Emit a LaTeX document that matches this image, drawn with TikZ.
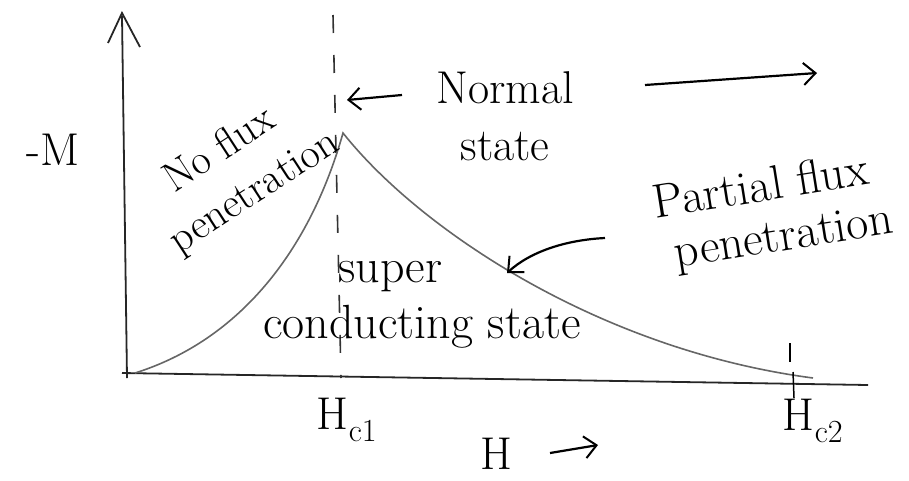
\documentclass[tikz,border=0pt]{standalone}
\usetikzlibrary{arrows.meta}
\tikzset{
  lbl/.style={font=\fontsize{46}{50}\selectfont, inner sep=0pt, text=black},
  axisline/.style={draw=black!85, line width=1.8pt},
  curveline/.style={draw=black!60, line width=1.6pt},
  barb/.style={-{Straight Barb[length=12pt,width=22pt,line width=2pt]}, line width=2.2pt},
  dashv/.style={draw=black!80, line width=1.6pt, dash pattern=on 18pt off 22pt},
}
\begin{document}
\begin{tikzpicture}[x=1pt,y=-1pt]
\path[use as bounding box] (0,0) rectangle (909,480);
% coordinates
\coordinate (O) at (122,373);
\coordinate (ytop) at (122,13);
\coordinate (xend) at (868,385);
\coordinate (start) at (135,373);
\coordinate (peak) at (343,133);
\coordinate (endc) at (813,378);
% axes
\draw[axisline] (127,378) -- (122,16);
\draw[line width=1.8pt, draw=black!85] (108,43) -- (ytop) -- (140,47);
\draw[axisline] (O) -- (xend);
% dashed Hc1 line
\coordinate (dtop) at (333,15);
\coordinate (dbot) at (341,378);
\draw[dashv] (dtop) -- (dbot);
% curve
\draw[curveline] (start) .. controls (240,340) and (310,250) .. (peak)
   .. controls (420,230) and (600,350) .. (endc);
% Hc2 tick
\coordinate (t1) at (790,343);
\coordinate (t2) at (790,362);
\coordinate (t3) at (793,372);
\coordinate (t4) at (794,398);
\draw[line width=1.5pt] (t1) -- (t2);
\draw[line width=1.5pt] (t3) -- (t4);
% labels
\node[lbl] (mlab) at (53,150) {-M};
\node[lbl, font=\fontsize{42}{54}\selectfont, rotate=33, align=center] (noflux) at (240,170) {\hspace*{-12pt}No flux\\penetration};
\node[lbl, align=center, font=\fontsize{46}{57}\selectfont] (normal) at (505,116) {Normal\\state};
\coordinate (nl) at (347,100);
\draw[barb] (402,95) -- (nl);
\coordinate (ra1) at (645,85);
\coordinate (ra2) at (817,73);
\draw[barb] (ra1) -- (ra2);
\node[lbl, font=\fontsize{48}{52}\selectfont, rotate=9, align=center] (partial) at (765,215) {Partial flux\\\hspace*{30pt}penetration};
\coordinate (ca1) at (605,238);
\coordinate (ca2) at (507,273);
\draw[barb] (ca1) .. controls (565,240) and (530,252) .. (ca2);
\node[lbl, font=\fontsize{48}{56}\selectfont, align=left] (super) at (422,305) {\hspace*{75pt}super\\conducting state};
\node[lbl] (hc1) at (347,420) {H\textsubscript{c1}};
\node[lbl] (hc2) at (813,421) {H\textsubscript{c2}};
\node[lbl] (hlab) at (496,454) {H};
\coordinate (ha1) at (550,453);
\coordinate (ha2) at (598,445);
\draw[barb] (ha1) -- (ha2);
\end{tikzpicture}
\end{document}
